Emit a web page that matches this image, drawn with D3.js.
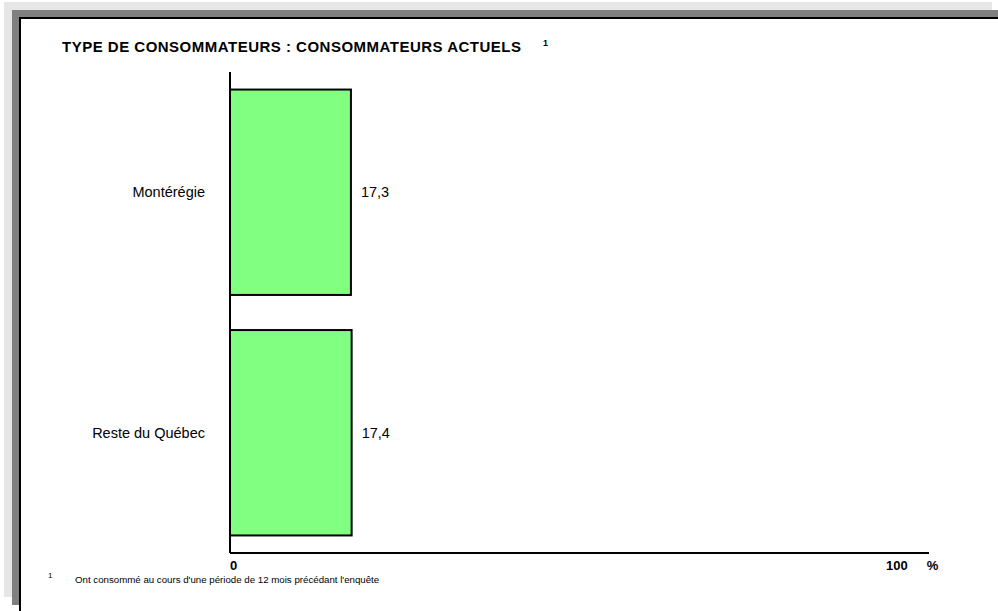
<!DOCTYPE html>
<html>
<head>
<meta charset="utf-8">
<script src="https://cdn.jsdelivr.net/npm/d3@7"></script>
<style>
	body { margin: 0; background: #fff; }
	svg text { font-family: "Liberation Sans", Arial, sans-serif; fill: #000; }
</style>
</head>
<body>
<svg id="chart" width="998" height="611"></svg>
<script>
	// data
	var categories = ['Montérégie', 'Reste du Québec'];
	var values = [17.3, 17.4];
	var valueLabels = ['17,3', '17,4'];
	var tickValues = [0, 100];
	var tickLabels = ['0', '100 %'];
	var title = 'TYPE DE CONSOMMATEURS : CONSOMMATEURS ACTUELS';
	var footnote = "Ont consommé au cours d'une période de 12 mois précédant l'enquête";

	var svg = d3.select('#chart');

	// frame: light grey, dark grey shadow, white panel with black border
	svg.append('rect').attr('x', 4).attr('y', 2).attr('width', 988).attr('height', 595).attr('fill', '#e6e6e6');
	svg.append('rect').attr('x', 12).attr('y', 10).attr('width', 990).attr('height', 595).attr('fill', '#808080');
	svg.append('rect').attr('x', 20).attr('y', 18).attr('width', 990).attr('height', 600)
		.attr('fill', '#fff').attr('stroke', '#000').attr('stroke-width', 2);

	var x = d3.scaleLinear().domain([0, 100]).range([230, 929]);
	var y = d3.scaleBand().domain(categories).range([72, 553])
		.paddingInner(0.146).paddingOuter(0.073);

	// title
	svg.append('text').attr('x', 62).attr('y', 52)
		.attr('textLength', 459).attr('lengthAdjust', 'spacing')
		.style('font-size', '15px').style('font-weight', 'bold')
		.text(title);
	svg.append('text').attr('x', 543).attr('y', 46)
		.style('font-size', '9px').style('font-weight', 'bold').text('1');

	// bars
	var bar = svg.selectAll('.bar')
		.data(categories)
		.enter()
		.append('g')
		.attr('class', 'bar');

	bar.append('rect')
		.attr('x', x(0))
		.attr('y', d => y(d))
		.attr('width', (d, i) => x(values[i]) - x(0))
		.attr('height', y.bandwidth())
		.attr('fill', '#80ff80')
		.attr('stroke', '#000')
		.attr('stroke-width', 2);

	bar.append('text')
		.attr('x', x(0) - 25)
		.attr('y', d => y(d) + y.bandwidth() / 2 + 5)
		.attr('text-anchor', 'end')
		.style('font-size', '14.5px')
		.text(d => d);

	bar.append('text')
		.attr('x', (d, i) => x(values[i]) + 10)
		.attr('y', d => y(d) + y.bandwidth() / 2 + 5)
		.style('font-size', '14.5px')
		.text((d, i) => valueLabels[i]);

	// axes
	svg.append('line').attr('x1', x(0)).attr('x2', x(0)).attr('y1', 72).attr('y2', 553)
		.attr('stroke', '#000').attr('stroke-width', 2);
	svg.append('line').attr('x1', x(0)).attr('x2', x(100)).attr('y1', 553).attr('y2', 553)
		.attr('stroke', '#000').attr('stroke-width', 2);

	// tick labels: number, then unit pushed to the right
	var ticks = svg.selectAll('.tick')
		.data(tickValues)
		.enter()
		.append('text')
		.attr('class', 'tick')
		.attr('x', (d, i) => i === 0 ? x(d) : x(d) - 43)
		.attr('y', 570)
		.style('font-size', '13px').style('font-weight', 'bold');
	ticks.each(function (d, i) {
		var parts = tickLabels[i].split(' ');
		var t = d3.select(this);
		t.append('tspan').text(parts[0]);
		if (parts[1]) t.append('tspan').attr('dx', 19).text(parts[1]);
	});

	// footnote
	svg.append('text').attr('x', 48).attr('y', 578).style('font-size', '8px').text('1');
	svg.append('text').attr('x', 75).attr('y', 583).style('font-size', '9.7px').text(footnote);
</script>
</body>
</html>
